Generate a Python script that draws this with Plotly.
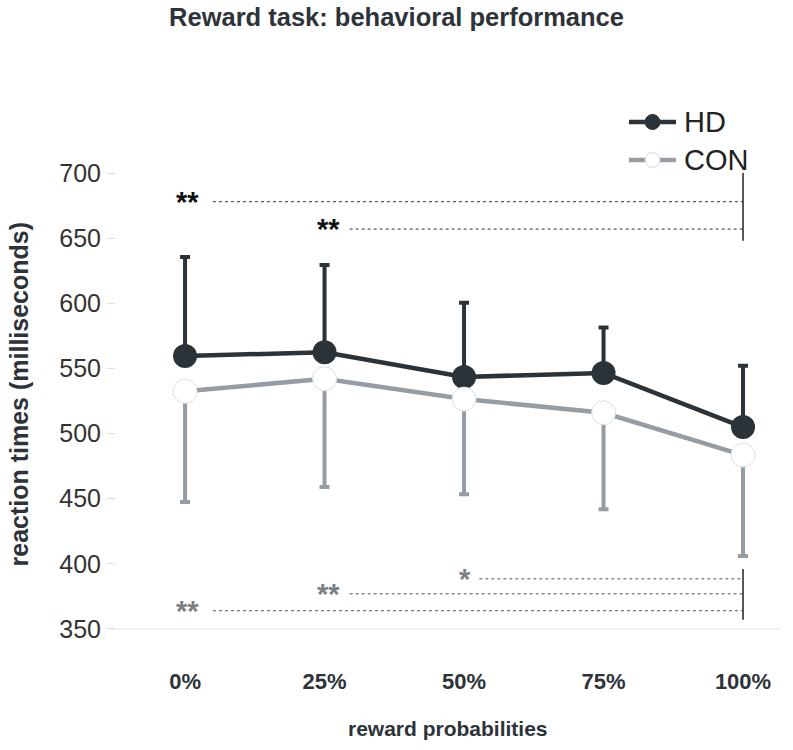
import plotly.graph_objects as go

categories = ["0%", "25%", "50%", "75%", "100%"]
x_pos = [0, 1, 2, 3, 4]

hd_mean = [559.5, 562.5, 543.5, 546.5, 505.0]
hd_err_up = [76.0, 67.0, 57.0, 35.0, 47.0]

con_mean = [532.5, 542.0, 526.5, 516.0, 483.5]
con_err_down = [85.0, 83.0, 73.0, 74.0, 77.5]

# significance brackets: (label, star x, line start x, y value)
sig_top = [("**", 0.02, 0.2, 678.0), ("**", 1.03, 1.18, 657.0)]
sig_bottom = [("*", 2.01, 2.11, 388.5), ("**", 1.03, 1.18, 377.0), ("**", 0.02, 0.2, 364.0)]

ytick_vals = [350, 400, 450, 500, 550, 600, 650, 700]

DARK = "#2b3238"
GRAY = "#969ca3"
STAR_GRAY = "#7b8086"
FONT = "Liberation Sans, Arial, sans-serif"

W, H = 793, 750
ML, MR, MT, MB = 116, 13, 147, 108
PW, PH = W - ML - MR, H - MT - MB


def px(x):
    return (x - ML) / PW


def py(y):
    return 1 - (y - MT) / PH


fig = go.Figure()

fig.add_trace(go.Scatter(
    x=x_pos, y=hd_mean, name="HD", mode="lines+markers",
    line=dict(color=DARK, width=4.5),
    marker=dict(size=24, color=DARK, line=dict(color=DARK, width=0)),
    error_y=dict(type="data", symmetric=False, array=hd_err_up,
                 arrayminus=[0] * 5, color=DARK, thickness=4, width=5),
))
fig.add_trace(go.Scatter(
    x=x_pos, y=con_mean, name="CON", mode="lines+markers",
    line=dict(color=GRAY, width=4.5),
    marker=dict(size=24, color="white", line=dict(color="#dcdfe2", width=1)),
    error_y=dict(type="data", symmetric=False, array=[0] * 5,
                 arrayminus=con_err_down, color=GRAY, thickness=4, width=5),
))

shapes = []
annotations = []
for lab, sx, lx, yv in sig_top:
    shapes.append(dict(type="line", xref="x", yref="y", x0=lx, x1=4, y0=yv, y1=yv,
                       line=dict(color="#333333", width=1, dash="dot")))
    annotations.append(dict(x=sx, y=yv, xref="x", yref="y", text=f"<b>{lab}</b>", showarrow=False,
                            yshift=0, font=dict(family=FONT, size=29, color="#111111")))
for lab, sx, lx, yv in sig_bottom:
    shapes.append(dict(type="line", xref="x", yref="y", x0=lx, x1=4, y0=yv, y1=yv,
                       line=dict(color="#555555", width=1, dash="dot")))
    annotations.append(dict(x=sx, y=yv, xref="x", yref="y", text=f"<b>{lab}</b>", showarrow=False,
                            yshift=0, font=dict(family=FONT, size=29, color=STAR_GRAY)))
# vertical bracket lines at 100%
shapes.append(dict(type="line", xref="x", yref="y", x0=4, x1=4, y0=700, y1=648,
                   line=dict(color="#222222", width=1.5)))
shapes.append(dict(type="line", xref="x", yref="y", x0=4, x1=4, y0=396, y1=357,
                   line=dict(color="#222222", width=1.5)))
# baseline at 350
shapes.append(dict(type="line", xref="paper", yref="y", x0=-0.01, x1=1, y0=350, y1=350,
                   line=dict(color="#e6e6e6", width=1), layer="below"))

# manual legend
legend_items = [("HD", 122, DARK, DARK, DARK), ("CON", 160, GRAY, "white", "#d5d8dc")]
for name, ypix, lcol, fcol, ocol in legend_items:
    shapes.append(dict(type="line", xref="paper", yref="paper", x0=px(629), x1=px(676),
                       y0=py(ypix), y1=py(ypix), line=dict(color=lcol, width=4.5)))
    shapes.append(dict(type="circle", xref="paper", yref="paper",
                       xsizemode="pixel", ysizemode="pixel",
                       xanchor=px(652.5), yanchor=py(ypix), x0=-7.5, x1=7.5, y0=-7.5, y1=7.5,
                       fillcolor=fcol, line=dict(color=ocol, width=1)))
    annotations.append(dict(x=px(682), y=py(ypix), xref="paper", yref="paper", text=name,
                            xanchor="left", yanchor="middle", showarrow=False,
                            font=dict(family=FONT, size=29, color="#222222")))

# axis titles
annotations.append(dict(x=0.5, y=py(728), xref="paper", yref="paper",
                        text="<b>reward probabilities</b>", showarrow=False,
                        xanchor="center", yanchor="middle",
                        font=dict(family=FONT, size=21, color="#2d3338")))
annotations.append(dict(x=px(18), y=0.5, xref="paper", yref="paper",
                        text="<b>reaction times (milliseconds)</b>", showarrow=False,
                        textangle=-90, xanchor="center", yanchor="middle",
                        font=dict(family=FONT, size=25, color="#2d3338")))

fig.update_layout(
    width=W, height=H,
    paper_bgcolor="white", plot_bgcolor="white",
    margin=dict(l=ML, r=MR, t=MT, b=MB),
    title=dict(text="<b>Reward task: behavioral performance</b>", x=0.5, xanchor="center",
               y=1 - 17 / H, yanchor="middle",
               font=dict(family=FONT, size=25.5, color="#2d3338")),
    font=dict(family=FONT, color="#2d3338"),
    showlegend=False,
    xaxis=dict(range=[-0.495, 4.265], tickmode="array", tickvals=x_pos,
               ticktext=[f"<b>{c}</b>" for c in categories],
               showgrid=False, zeroline=False, showline=False, ticks="",
               ticklabelstandoff=24,
               tickfont=dict(family=FONT, size=22, color="#2d3338")),
    yaxis=dict(range=[340, 720], tickmode="array", tickvals=ytick_vals,
               showgrid=False, zeroline=False, showline=False,
               ticks="outside", ticklen=8, tickcolor="#dddddd", tickwidth=1,
               ticklabelstandoff=1,
               tickfont=dict(family=FONT, size=25, color="#333333")),
    shapes=shapes, annotations=annotations,
)

fig.write_html("out.html", config={"displayModeBar": False},
               post_script="document.body.style.margin='0';")
